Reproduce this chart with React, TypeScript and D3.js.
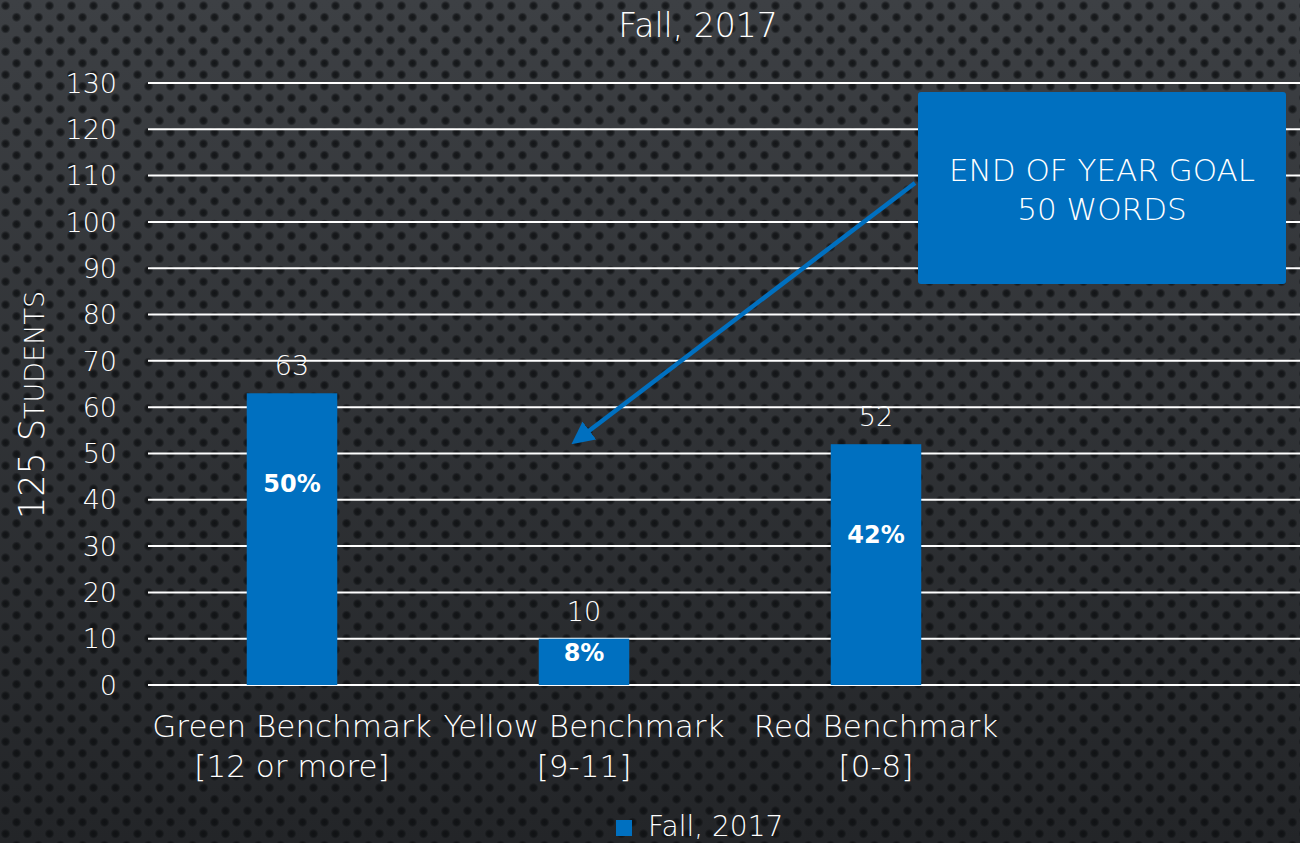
import React from 'react';
import * as d3 from 'd3';

const categories = ['Green Benchmark|[12 or more]', 'Yellow Benchmark|[9-11]', 'Red Benchmark|[0-8]', ''];
const values = [63, 10, 52, null];
const percents = ['50%', '8%', '42%', ''];
const yTicks = d3.range(0, 131, 10);
const seriesName = 'Fall, 2017';
const calloutLines = ['END OF YEAR GOAL', '50 WORDS'];
const goalValue = 50;

const W = 1300;
const H = 843;
const FONT = '"DejaVu Sans", sans-serif';
const BLUE = '#0070c0';

export default function App() {
    const margin = { left: 148, right: -16, top: 83, bottom: 158 };

    const x = d3.scaleBand()
        .domain(categories.map((c, i) => String(i)))
        .range([margin.left - 2, W - margin.right - 2])
        .padding(0);

    const y = d3.scaleLinear()
        .domain([0, 130])
        .range([H - margin.bottom, margin.top]);

    const barW = x.bandwidth() * 0.31;

    // arrow from the callout box down to the goal point between bars
    const ax1 = 915, ay1 = 183;
    const ax2 = x('1') + x.bandwidth() * 0.5 - 9;
    const ay2 = y(goalValue) - 12;

    return (
        <svg width={W} height={H} style={{ position: 'absolute', left: 0, top: 0, display: 'block' }}
            fontFamily={FONT}>
            <defs>
                <linearGradient id="bg" x1="0" y1="0" x2="0" y2="1">
                    <stop offset="0" stopColor="#3d4044" />
                    <stop offset="1" stopColor="#232528" />
                </linearGradient>
                <radialGradient id="dotg">
                    <stop offset="0" stopColor="#0c0e10" stopOpacity="0.85" />
                    <stop offset="0.55" stopColor="#0c0e10" stopOpacity="0.7" />
                    <stop offset="1" stopColor="#0c0e10" stopOpacity="0" />
                </radialGradient>
                <pattern id="dots" width="22" height="23" patternUnits="userSpaceOnUse">
                    <circle cx="5.5" cy="5.75" r="5" fill="url(#dotg)" />
                    <circle cx="16.5" cy="17.25" r="5" fill="url(#dotg)" />
                    <circle cx="16.5" cy="-5.75" r="5" fill="url(#dotg)" />
                    <circle cx="-5.5" cy="17.25" r="5" fill="url(#dotg)" />
                </pattern>
                <marker id="arrow" viewBox="0 0 10 10" refX="8" refY="5" markerWidth="5" markerHeight="5"
                    orient="auto">
                    <path d="M0,0 L10,5 L0,10 z" fill={BLUE} />
                </marker>
            </defs>
            <rect width={W} height={H} fill="url(#bg)" />
            <rect width={W} height={H} fill="url(#dots)" />

            <text x={698} y={37} fill="#fff" fontSize={33} fontWeight={300} textAnchor="middle">{seriesName}</text>

            {yTicks.map((t) => (
                <g key={t}>
                    <line x1={margin.left} x2={W} y1={y(t)} y2={y(t)} stroke="#fff" strokeWidth={2} />
                    <text x={117} y={y(t)} dy="0.36em" fill="#fff" fontSize={27} fontWeight={300}
                        textAnchor="end">{t}</text>
                </g>
            ))}

            <text transform={`translate(44, ${405}) rotate(-90)`} fill="#fff" fontSize={35} fontWeight={300}
                textAnchor="middle">
                125 S<tspan fontSize={27}>TUDENTS</tspan>
            </text>

            {values.map((v, i) => {
                if (v == null) return null;
                const cx = x(String(i)) + x.bandwidth() / 2;
                const h = y(0) - y(v);
                const off = h < 100 ? h * 0.3 : 90;
                return (
                    <g key={i}>
                        <rect x={cx - barW / 2} y={y(v)} width={barW} height={h} fill={BLUE} />
                        <text x={cx} y={y(v) - 18} fill="#fff" fontSize={27} fontWeight={300}
                            textAnchor="middle">{v}</text>
                        <text x={cx} y={y(v) + off} dy="0.36em" fill="#fff" fontSize={24} fontWeight="bold"
                            textAnchor="middle">{percents[i]}</text>
                    </g>
                );
            })}

            {categories.map((c, i) => {
                const cx = x(String(i)) + x.bandwidth() / 2;
                return c.split('|').map((line, j) => (
                    <text key={`${i}-${j}`} x={cx} y={737 + j * 40} fill="#fff" fontSize={31} fontWeight={300}
                        textAnchor="middle">{line}</text>
                ));
            })}

            <rect x={616} y={820} width={16} height={16} fill={BLUE} />
            <text x={648} y={836} fill="#fff" fontSize={28} fontWeight={300}>{seriesName}</text>

            <line x1={ax1} y1={ay1} x2={ax2} y2={ay2} stroke={BLUE} strokeWidth={4.5}
                markerEnd="url(#arrow)" />

            <rect x={918} y={92} width={368} height={192} rx={3} fill={BLUE} />
            {calloutLines.map((l, i) => (
                <text key={l} x={1102} y={181 + i * 39} fill="#fff" fontSize={31} fontWeight={300}
                    textAnchor="middle">{l}</text>
            ))}
        </svg>
    );
}
